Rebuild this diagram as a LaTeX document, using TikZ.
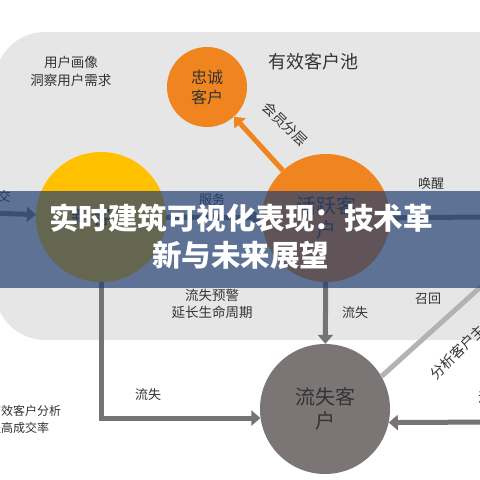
\documentclass[tikz,border=0pt]{standalone}
\usepackage{fontspec}
\newfontfamily\cjk{Noto Sans CJK SC}
\usetikzlibrary{arrows.meta,positioning}
\definecolor{poolgray}{HTML}{E6E6E6}
\definecolor{goldc}{HTML}{FFC000}
\definecolor{orangec}{HTML}{F0841F}
\definecolor{lostc}{HTML}{7B7675}
\definecolor{flowc}{HTML}{777373}
\definecolor{recallc}{HTML}{B3B3B3}
\definecolor{txt}{HTML}{333333}
\definecolor{banner}{RGB}{35,65,115}

\begin{document}
\begin{tikzpicture}[
  x=1pt,y=-1pt,
  cust/.style={circle, minimum size=#1, inner sep=0pt, align=center, text=txt, font=\cjk\fontsize{20}{24}\selectfont},
  cust/.default=130,
  lbl/.style={align=center, text=txt, inner sep=0pt, font=\cjk\fontsize{13}{17.5}\selectfont},
  flow/.style={draw=flowc, line width=5pt, -{Triangle[width=15pt,length=9pt]}},
  upflow/.style={draw=orangec, line width=5pt, -{Triangle[width=15pt,length=9pt]}},
  recall/.style={draw=recallc, line width=5pt}
]
\useasboundingbox (0,0) rectangle (480,480);
\clip (0,0) rectangle (480,480);
\fill[white] (0,0) rectangle (480,480);
% customer pool
\fill[poolgray, rounded corners=50pt] (-5,32) rectangle (530,340);

% customers
\node[cust=80, fill=orangec, font=\cjk\fontsize{16}{20}\selectfont] (loyal) at (207,87) {忠诚\\客户};
\node[cust=130, fill=goldc] (newc) at (101,217) {新客户};
\node[cust=128, fill=orangec] (active) at (326,218) {活跃客\\户};
\node[cust=130, fill=lostc] (lost) at (325,409) {流失客\\户};

% connectors
\coordinate (deal) at (-10,213);
\coordinate (wake) at (495,217);
\coordinate (back) at (495,422);
\coordinate (recallend) at (495,274);
\draw[recall] (lost.30) -- (recallend);
\draw[flow] (deal) -- (newc);
\draw[flow] (newc) -- (active);
\draw[flow] (wake) -- (active);
\draw[flow] (active) -- (lost);
\draw[flow] (newc.south) |- (lost.188);
\draw[flow] (back) -- (lost.-12);
\draw[upflow] (active) -- (loyal);

% labels
\node[lbl, font=\cjk\fontsize{18}{22}\selectfont] (pooltitle) at (313,62) {有效客户池};
\node[lbl, font=\cjk\fontsize{13.5}{18}\selectfont] (portrait) at (71,71) {用户画像\\洞察用户需求};
\node[lbl, rotate=-44, font=\cjk\fontsize{14}{17}\selectfont] (tier) at (285,124) {会员分层};
\node[lbl] (dealtxt) at (-2,197) {成交};
\node[lbl] (serve) at (212,200) {服务};
\node[lbl] (waketxt) at (431,184) {唤醒};
\node[lbl, font=\cjk\fontsize{13.5}{17.5}\selectfont] (warn) at (212,304) {流失预警\\延长生命周期};
\node[lbl] (churnA) at (355,313) {流失};
\node[lbl] (recalltxt) at (428,299) {召回};
\node[lbl] (churnB) at (148,395) {流失};
\node[lbl, rotate=45, anchor=west, font=\cjk\fontsize{14}{17}\selectfont] (analyse) at (433,377) {分析客户主};
\node[lbl] (churnC) at (491,398) {流失};
\node[lbl, align=left, anchor=north west, font=\cjk\fontsize{12}{17}\selectfont] (effective) at (-11,405) {有效客户分析\\提高成交率};

% title banner
\fill[banner, fill opacity=0.7] (0,191) rectangle (480,288);
\node[align=center, text=white, inner sep=0pt, font=\cjk\bfseries\fontsize{29.5}{37}\selectfont] (title) at (241,237) {实时建筑可视化表现：技术革\\新与未来展望};
\end{tikzpicture}
\end{document}
